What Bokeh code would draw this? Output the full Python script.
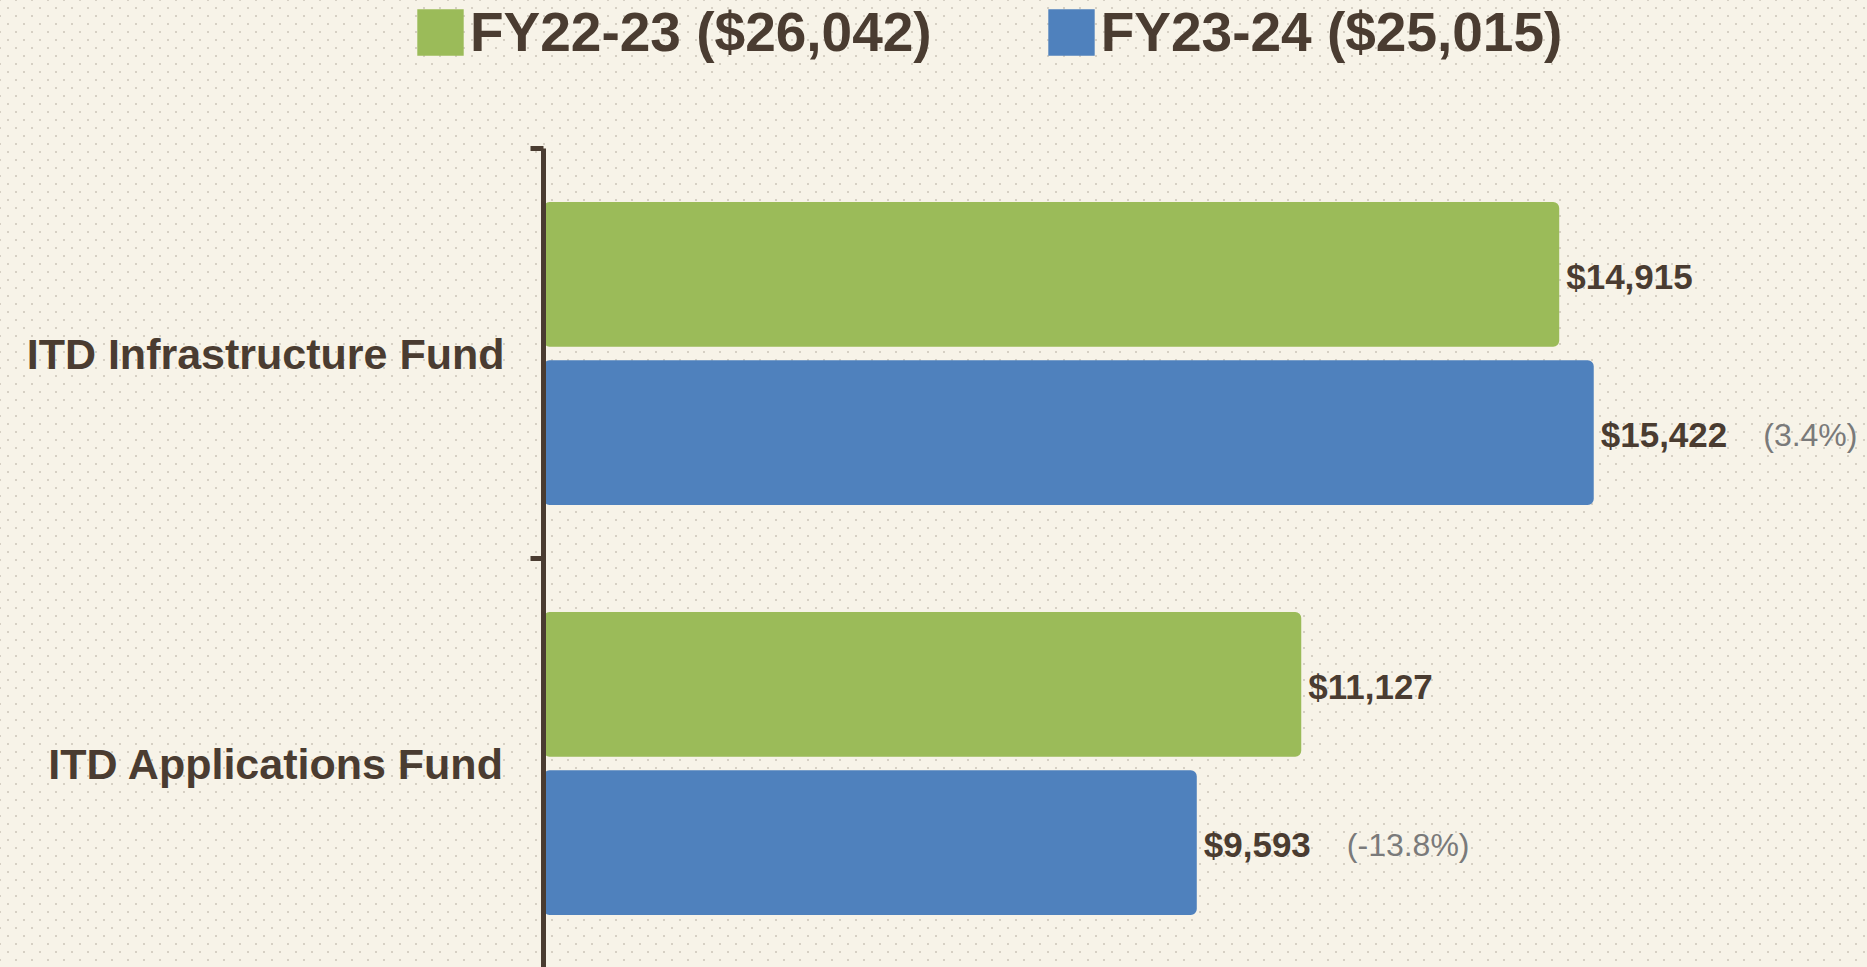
from bokeh.plotting import figure
from bokeh.layouts import column, row
from bokeh.models import (ColumnDataSource, Range1d, LinearAxis, FixedTicker,
                          Legend, LegendItem)
from bokeh.core.properties import value
from bokeh.embed import file_html
from bokeh.resources import INLINE

# ---- data ----
categories = ["ITD Infrastructure Fund", "ITD Applications Fund"]
fy22_23 = [14915, 11127]
fy23_24 = [15422, 9593]
pct_change = ["(3.4%)", "(-13.8%)"]
series_names = ["FY22-23 ($26,042)", "FY23-24 ($25,015)"]

# ---- styling ----
BG = "#f7f3e8"
DARK = "#4a3c31"
GREEN = "#9bbb59"
BLUE = "#4f81bd"
GRAY = "#7a7a7a"
FONT = "Liberation Sans"
PAPER = {
    "background-color": BG,
    "background-image": ("radial-gradient(circle, #d6d0c4 1.1px, transparent 1.4px), "
                         "radial-gradient(circle, #d6d0c4 1.1px, transparent 1.4px)"),
    "background-size": "16px 16px",
    "background-position": "0 0, 8px 8px",
}

centers = [i + 0.5 for i in range(len(categories))]
off = 0.193
bar_h = 0.353

def fmt(v):
    return "${:,}".format(v)

def est_width(s, size):
    return sum(0.278 if c in ",." else 0.556 for c in s) * size

g_src = ColumnDataSource(dict(y=[c - off for c in centers], x=fy22_23,
                              lbl=[fmt(v) for v in fy22_23]))
b_src = ColumnDataSource(dict(y=[c + off for c in centers], x=fy23_24,
                              lbl=[fmt(v) for v in fy23_24], pct=pct_change,
                              poff=[7 + est_width(fmt(v), 35) + 36 for v in fy23_24]))

W, H = 1867, 967
LEG_H = 80
LEFT, TOP = 543, 148 - LEG_H
frame_w = W - LEFT
frame_h = H - LEG_H - TOP
PX_PER_UNIT = 0.0681
BAND_PX = 410.0

# ---- legend strip ----
lg = figure(width=W, height=LEG_H, output_backend="svg", toolbar_location=None,
            x_range=Range1d(0, 1), y_range=Range1d(0, 1),
            x_axis_location=None, y_axis_location=None,
            min_border=0, styles=PAPER)
lg.background_fill_alpha = 0
lg.border_fill_alpha = 0
lg.outline_line_color = None
lg.xgrid.visible = False
lg.ygrid.visible = False
d1 = lg.hbar(y=[0.5], right=[0], left=[0], height=0, fill_color=GREEN,
             line_color=None, border_radius=6)
d2 = lg.hbar(y=[0.5], right=[0], left=[0], height=0, fill_color=BLUE,
             line_color=None, border_radius=6)
legend = Legend(items=[LegendItem(label=series_names[0], renderers=[d1]),
                       LegendItem(label=series_names[1], renderers=[d2])],
                orientation="horizontal", location=(411, 16),
                glyph_width=58, glyph_height=58, label_standoff=1,
                spacing=110, padding=0, margin=0,
                border_line_alpha=0, background_fill_alpha=0,
                label_text_font=FONT, label_text_font_size="55px",
                label_text_font_style="bold",
                label_text_color=DARK)
lg.add_layout(legend, "center")

# ---- main chart ----
p = figure(width=W, height=H - LEG_H, output_backend="svg", toolbar_location=None,
           x_range=Range1d(0, frame_w / PX_PER_UNIT),
           y_range=Range1d(start=frame_h / BAND_PX, end=0),
           x_axis_location=None, y_axis_location=None,
           min_border_left=LEFT, min_border_top=TOP, min_border_right=0,
           min_border_bottom=0, styles=PAPER)
p.background_fill_alpha = 0
p.border_fill_alpha = 0
p.outline_line_color = None
p.xgrid.visible = False
p.ygrid.visible = False

r1 = p.hbar(y="y", right="x", left=0, height=bar_h, source=g_src,
            fill_color=GREEN, line_color=None, border_radius=6)
r2 = p.hbar(y="y", right="x", left=0, height=bar_h, source=b_src,
            fill_color=BLUE, line_color=None, border_radius=6)

for src in (g_src, b_src):
    p.text(x="x", y="y", text="lbl", source=src, x_offset=7, y_offset=2,
           text_baseline="middle", text_align="left",
           text_font=value(FONT), text_font_style="bold",
           text_font_size="35px", text_color=DARK)
p.text(x="x", y="y", text="pct", source=b_src, x_offset="poff", y_offset=2,
       text_baseline="middle", text_align="left", text_font=value(FONT),
       text_font_size="32px", text_color=GRAY)

yaxis = LinearAxis(ticker=FixedTicker(ticks=centers, minor_ticks=[0, 1, 2]),
                   major_label_overrides={c: n for c, n in zip(centers, categories)})
yaxis.axis_line_color = DARK
yaxis.axis_line_width = 5
yaxis.major_tick_out = 0
yaxis.major_tick_in = 0
yaxis.minor_tick_out = 13
yaxis.minor_tick_in = 0
yaxis.minor_tick_line_width = 5
yaxis.minor_tick_line_color = DARK
yaxis.major_label_standoff = 26
yaxis.major_label_text_font = FONT
yaxis.major_label_text_font_style = "bold"
yaxis.major_label_text_font_size = "43px"
yaxis.major_label_text_color = DARK
p.add_layout(yaxis, "left")

layout = column(lg, row(p), spacing=0)
open("out.html", "w").write(file_html(layout, INLINE))
